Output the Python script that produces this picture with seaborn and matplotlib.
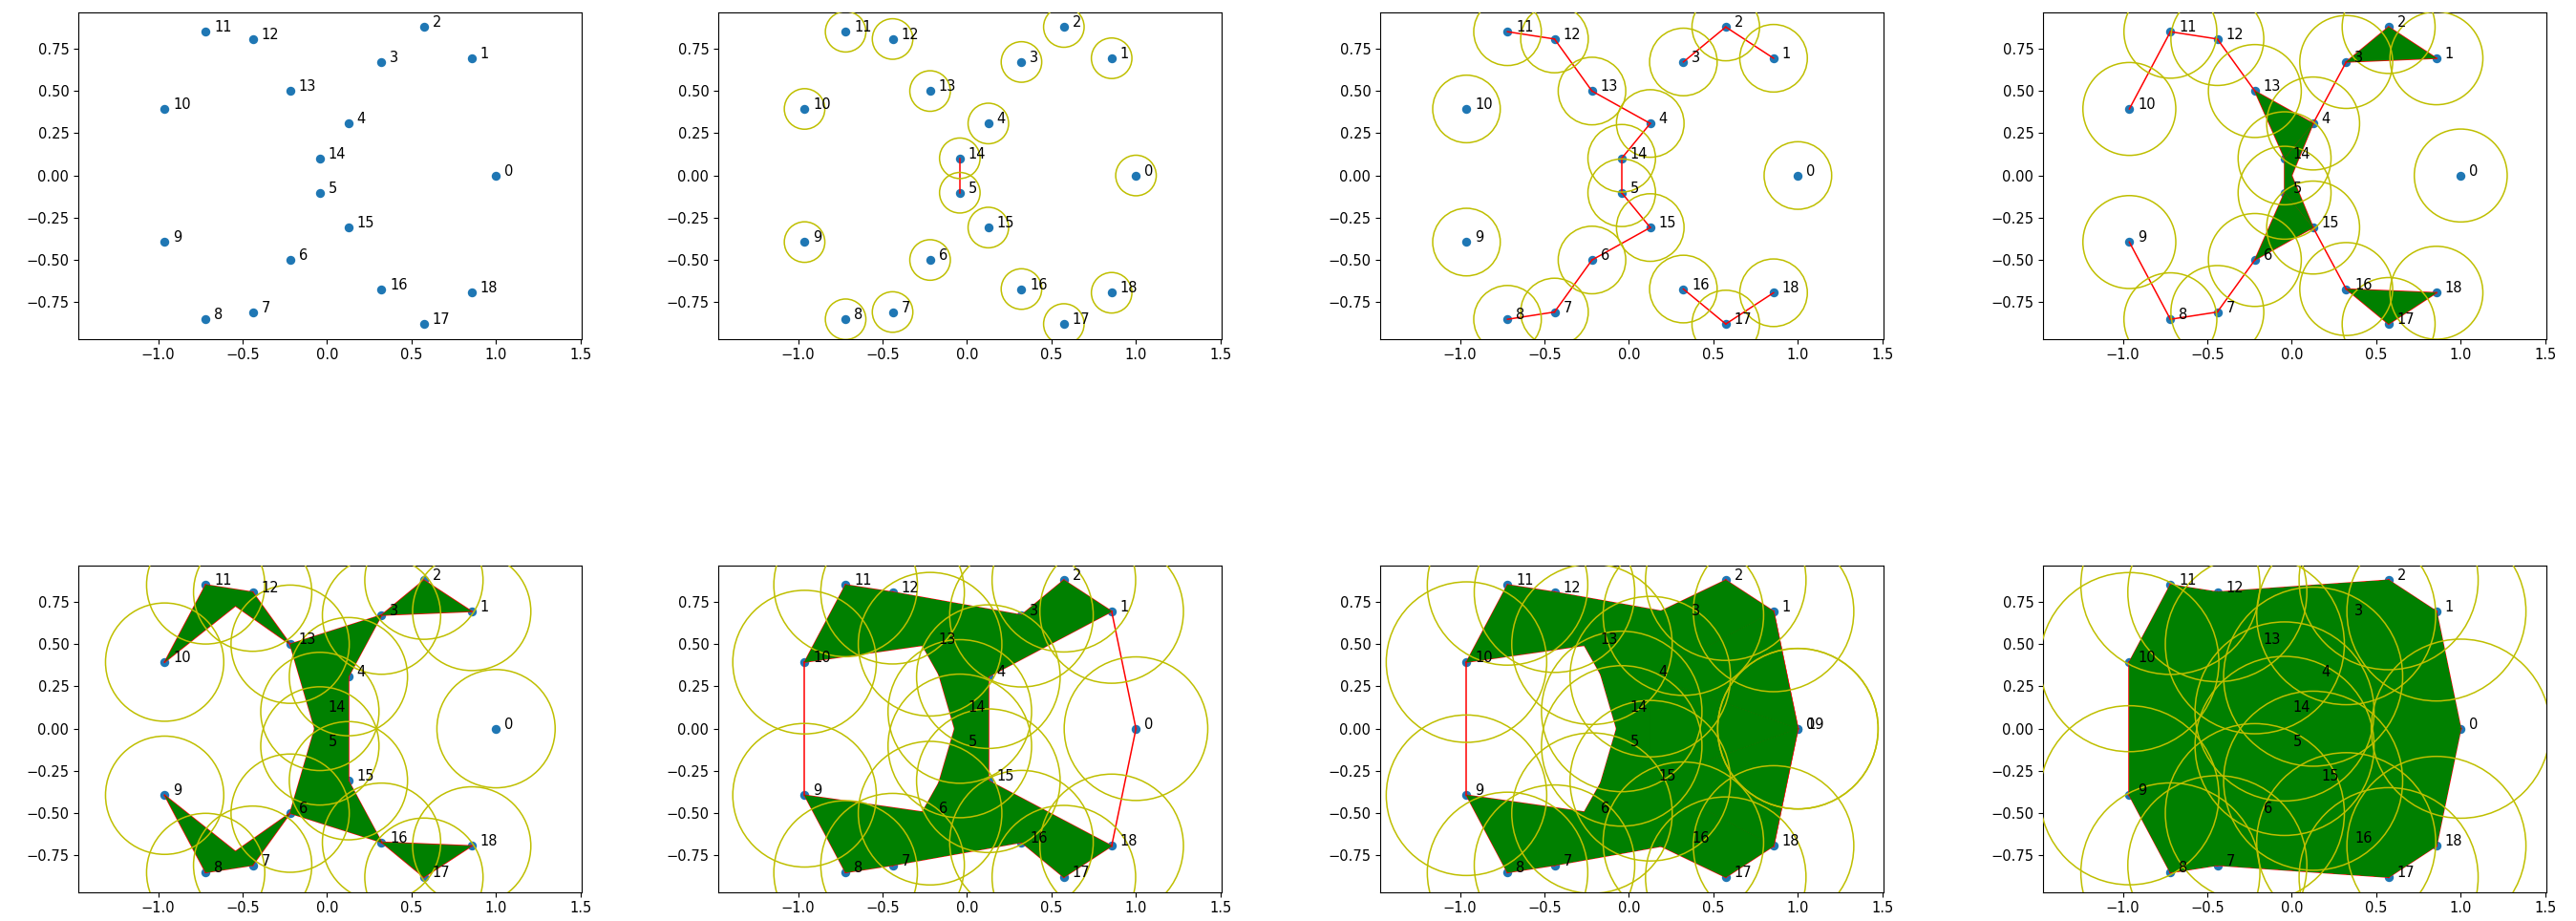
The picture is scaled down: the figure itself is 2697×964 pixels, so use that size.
import itertools
import numpy as np
import pandas as pd
import matplotlib
matplotlib.use("Agg")
import matplotlib.pyplot as plt
from matplotlib.patches import Circle
import seaborn as sns

# point cloud (figure-eight loop)
point_x = [1.0, 0.856, 0.573, 0.322, 0.126, -0.043, -0.219, -0.441, -0.719, -0.962,
           -0.962, -0.719, -0.441, -0.219, -0.043, 0.126, 0.322, 0.573, 0.856]
point_y = [0.0, 0.694, 0.879, 0.672, 0.308, -0.102, -0.5, -0.808, -0.851, -0.394,
           0.394, 0.851, 0.808, 0.5, 0.102, -0.308, -0.672, -0.879, -0.694]
point_labels = [str(i) for i in range(len(point_x))]

# ball radius for each of the 8 panels
radii = [0.0, 0.12, 0.2, 0.275, 0.35, 0.425, 0.475, 0.53]

# panel 7 has a duplicate of point 0 labelled 19
extra_panel = 6
extra_x = [1.0]
extra_y = [0.0]
extra_labels = ["19"]

# layout (pixels of the 2697x964 figure)
W, H = 2697, 964
lefts = [82, 752, 1445, 2139]
tops = [12.7, 591.7]
ax_w, ax_h = 527, 342

plt.rcParams["font.size"] = 10.5


def draw_panel(ax, df, r):
    sns.scatterplot(data=df, x="x", y="y", ax=ax, s=46, color="#1f77b4",
                    linewidth=0, zorder=1, legend=False)
    pts = df[["x", "y"]].to_numpy()
    n = len(pts)
    d = np.sqrt(((pts[:, None, :] - pts[None, :, :]) ** 2).sum(-1))
    close = d <= 2 * r

    # edges
    for i, j in itertools.combinations(range(n), 2):
        if close[i, j]:
            ax.plot(pts[[i, j], 0], pts[[i, j], 1], color="r", lw=1.1, zorder=1.5)
    # triangles
    for i, j, k in itertools.combinations(range(n), 3):
        if close[i, j] and close[j, k] and close[i, k]:
            ax.fill(pts[[i, j, k], 0], pts[[i, j, k], 1], color="g", lw=0, zorder=2)
    # balls
    if r > 0:
        for x, y in pts:
            ax.add_patch(Circle((x, y), r, fill=False, edgecolor="y", lw=1.1, zorder=3))
    for x, y, lab in zip(df["x"], df["y"], df["label"]):
        ax.text(x + 0.05, y, lab, fontsize=10.5, zorder=4)

    ax.set_xlim(-1.473, 1.507)
    ax.set_ylim(-0.967, 0.967)
    ax.set_xlabel("")
    ax.set_ylabel("")
    ax.set_xticks([-1.0, -0.5, 0.0, 0.5, 1.0, 1.5])
    ax.set_yticks([-0.75, -0.5, -0.25, 0.0, 0.25, 0.5, 0.75])


fig = plt.figure(figsize=(W / 100, H / 100), dpi=100)

for p, r in enumerate(radii):
    col, row = p % 4, p // 4
    rect = [lefts[col] / W, 1 - (tops[row] + ax_h) / H, ax_w / W, ax_h / H]
    ax = fig.add_axes(rect)
    df = pd.DataFrame({"x": point_x, "y": point_y, "label": point_labels})
    if p == extra_panel:
        df = pd.concat([df, pd.DataFrame({"x": extra_x, "y": extra_y,
                                          "label": extra_labels})], ignore_index=True)
    draw_panel(ax, df, r)

fig.savefig("out.png", dpi=100)
